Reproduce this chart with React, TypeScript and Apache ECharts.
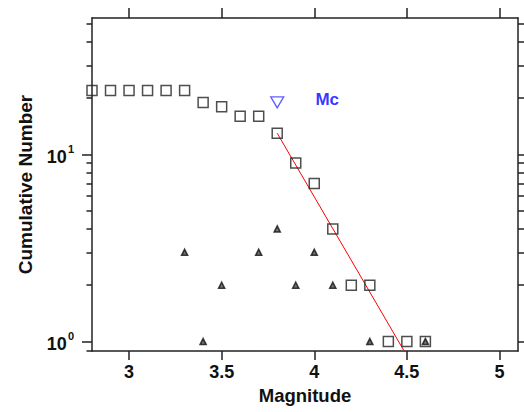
import React, { useEffect, useRef } from "react";
import * as echarts from "echarts";

// ---- data ----
const MAGNITUDES = [2.8, 2.9, 3.0, 3.1, 3.2, 3.3, 3.4, 3.5, 3.6, 3.7, 3.8, 3.9, 4.0, 4.1, 4.2, 4.3, 4.4, 4.5, 4.6];
const CUMULATIVE = [22, 22, 22, 22, 22, 22, 19, 18, 16, 16, 13, 9, 7, 4, 2, 2, 1, 1, 1];
const NONCUM_MAG = [3.3, 3.4, 3.5, 3.7, 3.8, 3.9, 4.0, 4.1, 4.3, 4.6];
const NONCUM_COUNT = [3, 1, 2, 3, 4, 2, 3, 2, 1, 1];
const MC_POINT = [3.8, 19];
const MC_LABEL_POINT = [4.07, 19.8];
const MC_LABEL = "Mc";
const FIT_MAG = [3.8, 4.5];
const FIT_N = [13, 0.84];
const X_TICKS = [3, 3.5, 4, 4.5, 5];
const Y_MAJOR = [1, 10];
const Y_MINOR = [2, 3, 4, 5, 6, 7, 8, 9, 20, 30, 40, 50];
const X_MIN = 2.8;
const X_MAX = 5.1;
const Y_MIN = 0.89;
const Y_MAX = 53.7;
const X_TITLE = "Magnitude";
const Y_TITLE = "Cumulative Number";

const FONT = "'Liberation Sans', Arial, sans-serif";
const INK = "#222";

export default function App() {
  const ref = useRef<HTMLDivElement>(null);

  useEffect(() => {
    if (!ref.current) return;
    const chart = echarts.init(ref.current, undefined, { renderer: "svg" });
    const lineStyle = { color: INK, width: 1.5 };

    const option: any = {
      animation: false,
      backgroundColor: "#fff",
      grid: { left: 92, right: 6, top: 18, bottom: 61, containLabel: false },
      xAxis: [
        {
          type: "value",
          position: "bottom",
          min: X_MIN,
          max: X_MAX,
          axisLine: { show: true, onZero: false, lineStyle },
          axisTick: { show: true, inside: false, length: 9, customValues: X_TICKS, lineStyle },
          axisLabel: {
            customValues: X_TICKS,
            formatter: (v: number) => String(v),
            fontSize: 18,
            fontWeight: "bold",
            fontFamily: FONT,
            color: "#111",
            margin: 12,
          },
          splitLine: { show: false },
          name: X_TITLE,
          nameLocation: "middle",
          nameGap: 34,
          nameTextStyle: { fontSize: 18.5, fontWeight: "bold", fontFamily: FONT, color: "#111" },
        },
        {
          type: "value",
          position: "top",
          min: X_MIN,
          max: X_MAX,
          axisLine: { show: true, onZero: false, lineStyle },
          axisTick: { show: true, inside: false, length: 10, customValues: X_TICKS, lineStyle },
          axisLabel: { show: false },
          splitLine: { show: false },
        },
      ],
      yAxis: [
        {
          type: "log",
          logBase: 10,
          position: "left",
          min: Y_MIN,
          max: Y_MAX,
          axisLine: { show: true, onZero: false, lineStyle },
          axisTick: { show: true, inside: false, length: 10, customValues: Y_MAJOR, lineStyle },
          axisLabel: {
            customValues: Y_MAJOR,
            margin: 18,
            formatter: (v: number) => `{b|10}{s|${Math.round(Math.log10(v))}}`,
            rich: {
              b: { fontSize: 18, fontWeight: "bold", fontFamily: FONT, color: "#111", verticalAlign: "bottom" },
              s: {
                fontSize: 11,
                fontWeight: "bold",
                fontFamily: FONT,
                color: "#111",
                verticalAlign: "bottom",
                padding: [0, 0, 12, 1],
              },
            },
          },
          splitLine: { show: false },
          minorTick: { show: false },
          name: Y_TITLE,
          nameLocation: "middle",
          nameGap: 57,
          nameTextStyle: { fontSize: 19, fontWeight: "bold", fontFamily: FONT, color: "#111" },
        },
        {
          type: "log",
          logBase: 10,
          position: "left",
          min: Y_MIN,
          max: Y_MAX,
          axisLine: { show: false },
          axisTick: { show: true, inside: false, length: 5.5, customValues: [...Y_MINOR, Y_MIN], lineStyle },
          axisLabel: { show: false },
          splitLine: { show: false },
        },
        {
          type: "log",
          logBase: 10,
          position: "right",
          min: Y_MIN,
          max: Y_MAX,
          axisLine: { show: true, onZero: false, lineStyle },
          axisTick: { show: true, inside: false, length: 6, customValues: [...Y_MAJOR, ...Y_MINOR], lineStyle },
          axisLabel: { show: false },
          splitLine: { show: false },
        },
      ],
      series: [
        {
          type: "scatter",
          name: "non-cumulative",
          data: NONCUM_MAG.map((m, i) => [m, NONCUM_COUNT[i]]),
          symbol: "triangle",
          symbolSize: [6, 6],
          itemStyle: { color: "#555", borderColor: "#111", borderWidth: 1.6 },
          z: 2,
        },
        {
          type: "line",
          name: "fit",
          data: FIT_MAG.map((m, i) => [m, FIT_N[i]]),
          showSymbol: false,
          symbol: "none",
          lineStyle: { color: "#ff0000", width: 1 },
          clip: true,
          z: 3,
        },
        {
          type: "scatter",
          name: "cumulative",
          data: MAGNITUDES.map((m, i) => [m, CUMULATIVE[i]]),
          symbol: "rect",
          symbolSize: 10,
          itemStyle: { color: "rgba(0,0,0,0)", borderColor: INK, borderWidth: 1.5 },
          clip: false,
          z: 4,
        },
        {
          type: "scatter",
          name: "Mc",
          data: [MC_POINT],
          symbol: "triangle",
          symbolRotate: 180,
          symbolSize: [13, 11],
          itemStyle: { color: "rgba(0,0,0,0)", borderColor: "#3a3aff", borderWidth: 1.3 },
          z: 5,
        },
        {
          type: "scatter",
          name: "Mc label",
          data: [MC_LABEL_POINT],
          symbolSize: 1,
          itemStyle: { color: "rgba(0,0,0,0)" },
          label: {
            show: true,
            position: "inside",
            formatter: MC_LABEL,
            fontSize: 17,
            fontWeight: "bold",
            fontFamily: FONT,
            color: "#0000ff",
          },
          z: 5,
        },
      ],
    };

    chart.setOption(option);
    return () => chart.dispose();
  }, []);

  return (
    <div
      ref={ref}
      style={{ position: "fixed", left: 0, top: 0, width: 524, height: 412, background: "#fff" }}
    />
  );
}
